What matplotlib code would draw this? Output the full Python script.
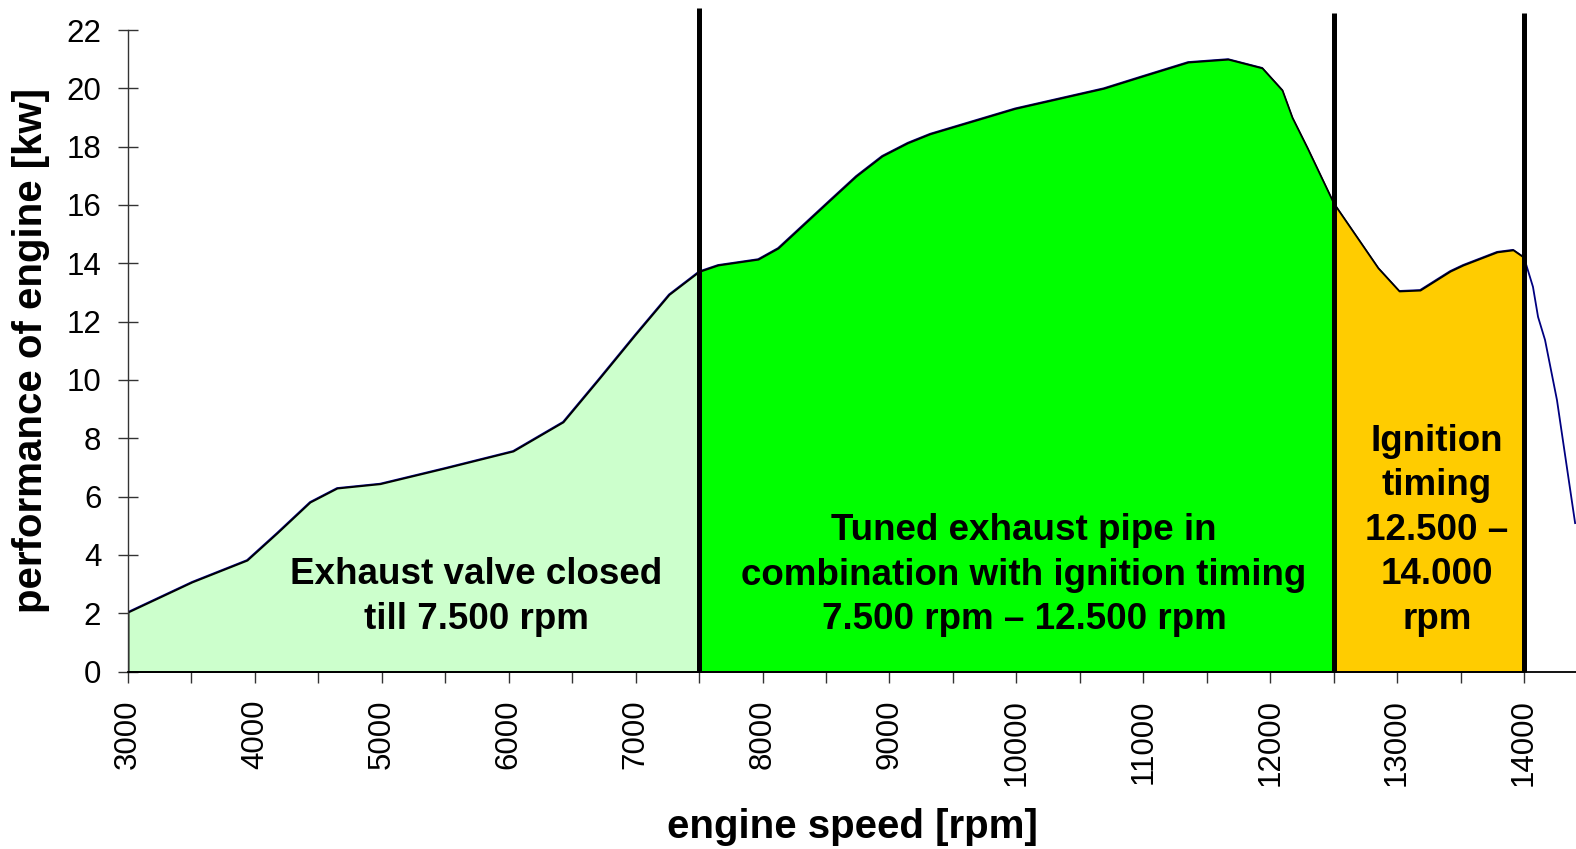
import numpy as np
import matplotlib
matplotlib.use("Agg")
import matplotlib.pyplot as plt
from matplotlib.ticker import MultipleLocator

plt.rcParams['font.family'] = ['Liberation Sans', 'DejaVu Sans']

# ---- data ----
rpm = [3000, 3504, 3938, 4174, 4434, 4647, 4986, 5500, 6034, 6428, 6704, 6996,
       7263, 7500, 7649, 7965, 8122, 8532, 8737, 8942, 9143, 9320, 9990, 10687,
       10988, 11353, 11668, 11936, 12094, 12173, 12291, 12500, 12850, 13016,
       13181, 13418, 13520, 13788, 13914, 14000, 14071, 14111, 14166, 14260, 14403]
power_kw = [2.04, 3.07, 3.82, 4.75, 5.81, 6.29, 6.44, 6.98, 7.56, 8.56, 10.0, 11.55,
            12.93, 13.72, 13.94, 14.14, 14.52, 16.17, 16.99, 17.68, 18.13, 18.44, 19.31, 20.0,
            20.41, 20.9, 21.0, 20.7, 19.94, 19.0, 17.97, 16.06, 13.84, 13.05,
            13.08, 13.73, 13.94, 14.39, 14.46, 14.2, 13.19, 12.16, 11.37, 9.31, 5.09]

zone_edges = [3000, 7500, 12500, 14000]
zone_colors = ['#CCFFCC', '#00FF00', '#FFCC00']
zone_labels = ["Exhaust valve closed\ntill 7.500 rpm",
               "Tuned exhaust pipe in\ncombination with ignition timing\n7.500 rpm \u2013 12.500 rpm",
               "Ignition\ntiming\n12.500 \u2013\n14.000\nrpm"]
label_pos_rpm = [5742, 10061, 13315]
label_pos_kw = [2.55, 3.3, 4.84]
divider_rpm = [7500, 12500, 14000]
divider_top = [22.75, 22.6, 22.6]

x_major = np.arange(3000, 14001, 1000)
y_ticks = np.arange(0, 23, 2)

# ---- figure ----
fig = plt.figure(figsize=(15.76, 8.49), dpi=100)
ax = fig.add_axes([128/1576, (849-671.5)/849, (1576-128)/1576, 641.5/849])

x = np.array(rpm, dtype=float)
y = np.array(power_kw, dtype=float)

ax.plot(x, y, color='#000080', lw=1.3, zorder=1)

for i, c in enumerate(zone_colors):
    lo, hi = zone_edges[i], zone_edges[i+1]
    m = (x >= lo) & (x <= hi)
    ax.fill_between(x[m], y[m], 0, facecolor=c, edgecolor='black', lw=1.3, zorder=2)

ax.vlines(divider_rpm, 0, divider_top, colors='black', lw=3.6, zorder=4, clip_on=False)

for t, px, py in zip(zone_labels, label_pos_rpm, label_pos_kw):
    ax.text(px, py, t, ha='center', va='center', multialignment='center',
            fontsize=26.5, fontweight='bold', linespacing=1.35, zorder=5)

ax.set_xlim(3000, 14410)
ax.set_ylim(0, 22)

ax.set_xticks(x_major)
ax.xaxis.set_minor_locator(MultipleLocator(500))
ax.set_yticks(y_ticks)
ax.tick_params(axis='x', which='both', direction='out', length=8, width=1,
               color='#333333', labelsize=22.5, labelrotation=90, pad=12)
ax.tick_params(axis='y', direction='inout', length=14.5, width=1,
               color='#333333', labelsize=22.5, pad=12)

for s in ['top', 'right']:
    ax.spines[s].set_visible(False)
ax.spines['left'].set_color('#333333')
ax.spines['left'].set_linewidth(1)
ax.spines['bottom'].set_color('black')
ax.spines['bottom'].set_linewidth(1.3)

ax.set_xlabel('engine speed [rpm]', fontsize=29, fontweight='bold')
ax.set_ylabel('performance of engine [kw]', fontsize=29, fontweight='bold')
ax.xaxis.set_label_coords(0.5, -0.213)
ax.yaxis.set_label_coords(-0.054, 0.5)

fig.savefig('out.png', dpi=100)
